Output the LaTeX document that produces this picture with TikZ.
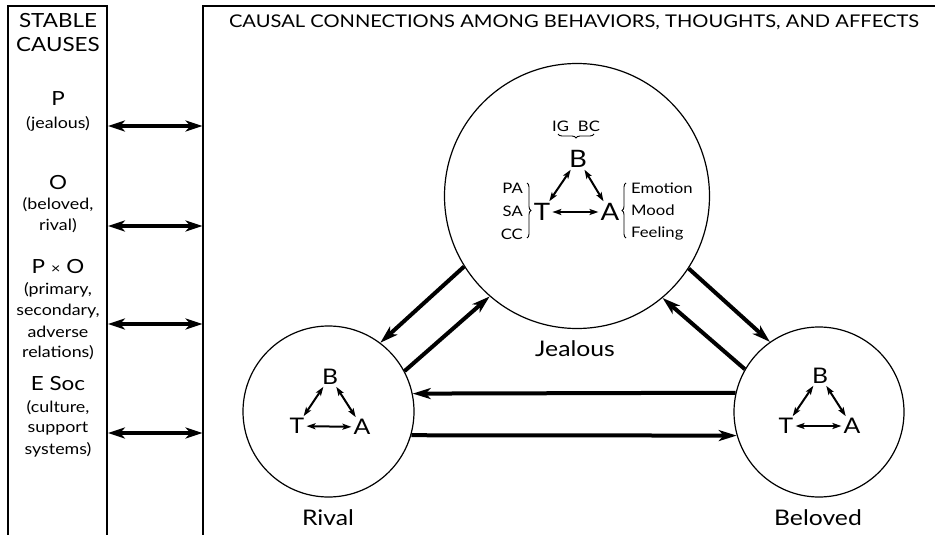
\documentclass[tikz,border=0pt]{standalone}
\usepackage{fontspec}
\setmainfont{Lato}[FakeStretch=1.15]
\usetikzlibrary{arrows.meta,decorations.pathreplacing}
\newcommand{\fs}[1]{\fontsize{#1}{#1}\selectfont}
\begin{document}
\begin{tikzpicture}[x=1pt,y=-1pt,
  frm/.style={line width=1.3pt},
  circ/.style={circle,draw,line width=1.2pt,minimum size=#1,inner sep=0pt},
  big/.style={line width=4pt,-{Stealth[length=18pt,width=11pt,inset=5pt]}},
  side/.style={line width=3.2pt,{Stealth[length=17pt,width=11pt,inset=5pt]}-{Stealth[length=17pt,width=11pt,inset=5pt]}},
  tri/.style={line width=2pt,{Stealth[length=9pt,width=6pt,inset=2pt]}-{Stealth[length=9pt,width=6pt,inset=2pt]},shorten >=0.5pt,shorten <=0.5pt},
  hd/.style={font=\fs{19.5},inner sep=0pt},
  sub/.style={font=\fs{15.5},inner sep=0pt},
  ssub/.style={font=\fs{14.5},inner sep=0pt},
  letr/.style={font=\fs{24},inner sep=1.5pt},
  sletr/.style={font=\fs{21.5},inner sep=1.5pt},
  cname/.style={font=\fs{21.5},inner sep=0pt},
  brc/.style={decorate,decoration={brace,amplitude=4pt},line width=0.9pt}
]
\useasboundingbox (0,0) rectangle (935,535);
% frames
\draw[frm] (8,540) -- (8,6) -- (107,6) -- (107,540);
\draw[frm] (203,540) -- (203,6) -- (940,6);
% left column
\node[hd] (st1) at (58,21) {STABLE};
\node[hd] (st2) at (58,45) {CAUSES};
\node[hd] (p) at (58,99) {P};
\node[sub] (p1) at (58,124) {(jealous)};
\node[hd] (o) at (58,183) {O};
\node[sub] (o1) at (58,205) {(beloved,};
\node[sub] (o2) at (58,226) {rival)};
\node[hd] (po) at (58,267) {P\hspace{6pt}{\fs{14}×}\hspace{6pt}O};
\node[sub] (po1) at (58,290) {(primary,};
\node[sub] (po2) at (58,311) {secondary,};
\node[sub] (po3) at (58,332) {adverse};
\node[sub] (po4) at (58,353) {relations)};
\node[hd] (e) at (58,384) {E Soc};
\node[sub] (e1) at (58,408) {(culture,};
\node[sub] (e2) at (58,429) {support};
\node[sub] (e3) at (58,450) {systems)};
\foreach \i/\y in {1/126,2/226,3/324,4/433}{
  \coordinate (la\i) at (108,\y);
  \coordinate (ra\i) at (202.5,\y);
  \draw[side] (la\i) -- (ra\i);
}
% title
\node[font=\fs{17.5},inner sep=0pt] (title) at (574,22) {CAUSAL CONNECTIONS AMONG BEHAVIORS, THOUGHTS, AND AFFECTS};
% circles
\node[circ=265pt] (J) at (577,196) {};
\node[circ=171pt] (R) at (328.5,411.5) {};
\node[circ=170pt] (Be) at (819,412) {};
\node[cname] (Jl) at (575,349) {Jealous};
\node[cname] (Rl) at (328,518) {Rival};
\node[cname] (Bl) at (818,518) {Beloved};
% connectors
\draw[big] (J.212) -- (R.53);
\draw[big] (R.28) -- (J.229);
\draw[big] (J.327) -- (Be.125);
\draw[big] (Be.150) -- (J.310);
\draw[big] (Be.167.8) -- (R.12.2);
\draw[big] (R.-16.3) -- (Be.196.3);
% jealous inner
\node[letr] (JB) at (578,159) {B};
\node[letr] (JT) at (542,212) {T};
\node[letr] (JA) at (610,212) {A};
\draw[tri] (JB) -- (JT);
\draw[tri] (JB) -- (JA);
\draw[tri] (JT) -- (JA);
\node[ssub] (ig) at (576,126) {IG\hspace{9pt}BC};
\draw[brc] (594,134) -- (558,134);
\node[ssub,anchor=east] (pa) at (523,188) {PA};
\node[ssub,anchor=east] (sa) at (523,211) {SA};
\node[ssub,anchor=east] (cc) at (523,234) {CC};
\draw[brc] (527,183) -- (527,238);
\node[ssub,anchor=west] (em) at (631,188) {Emotion};
\node[ssub,anchor=west] (mo) at (631,210) {Mood};
\node[ssub,anchor=west] (fe) at (631,233) {Feeling};
\draw[brc] (626,238) -- (626,183);
% rival inner
\node[sletr] (RB) at (330,377) {B};
\node[sletr] (RT) at (297,426) {T};
\node[sletr] (RA) at (362,427) {A};
\draw[tri] (RB) -- (RT);
\draw[tri] (RB) -- (RA);
\draw[tri] (RT) -- (RA);
% beloved inner
\node[sletr] (BB) at (820,376) {B};
\node[sletr] (BT) at (786,426) {T};
\node[sletr] (BA) at (852,426) {A};
\draw[tri] (BB) -- (BT);
\draw[tri] (BB) -- (BA);
\draw[tri] (BT) -- (BA);
\end{tikzpicture}
\end{document}
